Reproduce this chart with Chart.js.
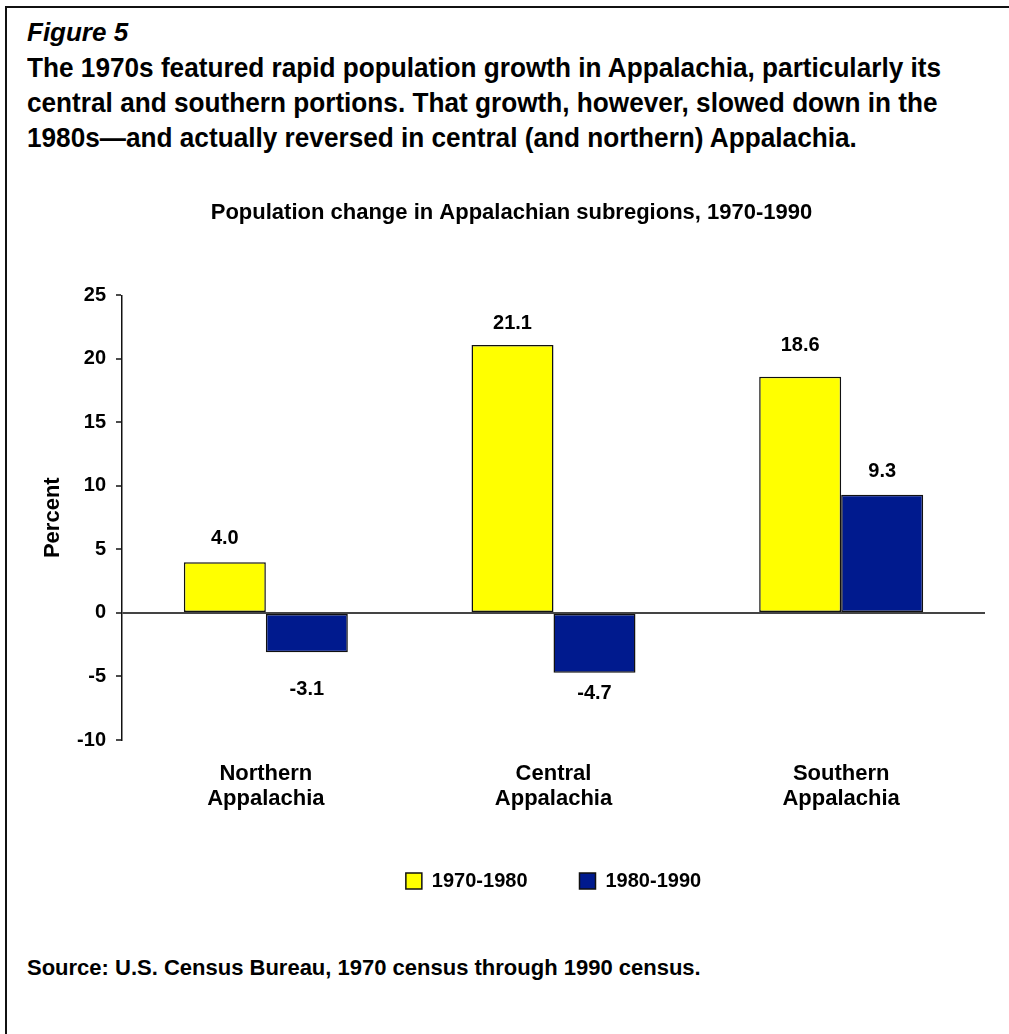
<!DOCTYPE html>
<html>
<head>
<meta charset="utf-8">
<script src="https://cdn.jsdelivr.net/npm/chart.js@4.4.1/dist/chart.umd.min.js"></script>
<style>
  body { margin: 0; background: #fff; font-family: "Liberation Sans", Arial, sans-serif; color: #000; }
  #frame { position: absolute; left: 5px; top: 6px; right: 0; bottom: 0; border-left: 2px solid #111; border-top: 2px solid #111; }
  #fig { position: absolute; left: 27px; top: 19px; font-size: 26px; line-height: 26px; font-weight: bold; font-style: italic; }
  #heading { position: absolute; left: 27px; top: 50px; font-size: 28px; line-height: 35px; font-weight: bold; white-space: nowrap; transform: scaleX(0.935); transform-origin: 0 0; }
  #source { position: absolute; left: 27px; top: 956px; font-size: 22px; line-height: 24px; font-weight: bold; }
  #chartBox { position: absolute; left: 38px; top: 175px; width: 971px; height: 730px; }
</style>
</head>
<body>
<div id="frame"></div>
<div id="fig">Figure 5</div>
<div id="heading">The 1970s featured rapid population growth in Appalachia, particularly its<br>central and southern portions. That growth, however, slowed down in the<br>1980s—and actually reversed in central (and northern) Appalachia.</div>
<div id="chartBox"><canvas id="popChart"></canvas></div>
<div id="source">Source: U.S. Census Bureau, 1970 census through 1990 census.</div>

<script>
// Data
const regions = [['Northern', 'Appalachia'], ['Central', 'Appalachia'], ['Southern', 'Appalachia']];
const change7080 = [4.0, 21.1, 18.6];
const change8090 = [-3.1, -4.7, 9.3];
const seriesNames = ['1970-1980', '1980-1990'];
const yTicks = [-10, -5, 0, 5, 10, 15, 20, 25];

// how far each value label sits from its bar end (px)
const labelGap = [[24, 21, 31], [37, 21, 23]];

Chart.defaults.font.family = '"Liberation Sans", Arial, sans-serif';
Chart.defaults.color = '#000';

// Value labels above / below bars
const valueLabels = {
  id: 'valueLabels',
  afterDatasetsDraw(chart) {
    const ctx = chart.ctx;
    ctx.save();
    ctx.font = 'bold 20px "Liberation Sans", Arial, sans-serif';
    ctx.fillStyle = '#000';
    ctx.textAlign = 'center';
    ctx.textBaseline = 'middle';
    chart.data.datasets.forEach((ds, i) => {
      chart.getDatasetMeta(i).data.forEach((bar, j) => {
        const v = ds.data[j];
        const gap = labelGap[i][j];
        const y = v >= 0 ? bar.y - gap : bar.y + gap;
        ctx.fillText(v.toFixed(1), bar.x, y);
      });
    });
    ctx.restore();
  }
};

function renderPopChart() {
  const ctx = document.getElementById('popChart');
  new Chart(ctx, {
    type: 'bar',
    data: {
      labels: regions,
      datasets: [{
        label: seriesNames[0],
        data: change7080,
        backgroundColor: '#FFFF00',
        borderColor: '#111',
        borderWidth: 1.5,
        borderSkipped: false
      }, {
        label: seriesNames[1],
        data: change8090,
        backgroundColor: '#001A8E',
        borderColor: '#111',
        borderWidth: 1.5,
        borderSkipped: false
      }]
    },
    options: {
      responsive: true,
      maintainAspectRatio: false,
      animation: false,
      layout: { padding: { left: 0, right: 24, top: 0, bottom: 4 } },
      datasets: { bar: { barPercentage: 1, categoryPercentage: 0.57 } },
      plugins: {
        title: {
          display: true,
          text: 'Population change in Appalachian subregions, 1970-1990',
          font: { size: 22, weight: 'bold' },
          color: '#000',
          padding: { top: 25, bottom: 69 }
        },
        legend: {
          position: 'bottom',
          fullSize: false,
          labels: {
            boxWidth: 16,
            boxHeight: 16,
            padding: 52,
            color: '#000',
            font: { size: 20, weight: 'bold' }
          }
        },
        tooltip: { enabled: false }
      },
      scales: {
        x: {
          grid: { display: false, drawTicks: false },
          border: { display: false },
          ticks: {
            color: '#000',
            padding: 21,
            font: { size: 22, weight: 'bold', lineHeight: 1.14 },
            maxRotation: 0
          },
          afterFit(scale) { scale.height = 79; }
        },
        y: {
          min: yTicks[0],
          max: yTicks[yTicks.length - 1],
          afterBuildTicks(scale) { scale.ticks = yTicks.map(v => ({ value: v })); },
          ticks: {
            color: '#000',
            padding: 10,
            font: { size: 20, weight: 'bold' }
          },
          grid: {
            color: c => (c.tick && c.tick.value === 0) ? '#444' : 'rgba(0,0,0,0)',
            lineWidth: 2,
            tickColor: '#111',
            tickLength: 6,
            tickWidth: 1.5
          },
          border: { display: true, color: '#111', width: 1.5 },
          title: {
            display: true,
            text: 'Percent',
            color: '#000',
            font: { size: 22, weight: 'bold' },
            padding: { top: 2, bottom: 0 }
          },
          afterFit(scale) { scale.width = 84; }
        }
      }
    },
    plugins: [valueLabels]
  });
}

window.onload = renderPopChart;
</script>
</body>
</html>
